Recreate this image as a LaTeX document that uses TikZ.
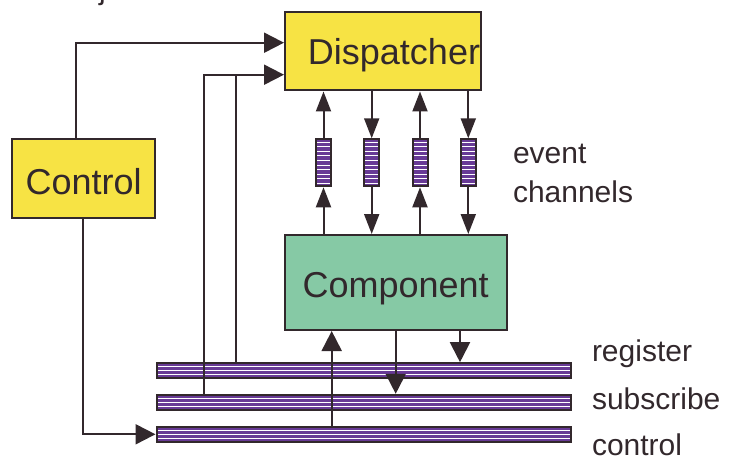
\documentclass[tikz,border=0pt]{standalone}
\usepackage{fontspec}
\setmainfont{Liberation Sans}
\usetikzlibrary{arrows.meta}
\definecolor{ink}{RGB}{50,40,44}
\definecolor{boxyellow}{RGB}{247,227,68}
\definecolor{boxgreen}{RGB}{134,201,165}
\definecolor{chanpurple}{RGB}{104,58,150}
\begin{document}
\begin{tikzpicture}[x=1pt,y=-1pt,line width=2pt,ink,
  box/.style={draw=ink,line width=2pt,rectangle,inner sep=0pt},
  bar/.style={draw=ink,fill=chanpurple,line width=2pt,rectangle,inner sep=0pt,
    minimum width=414pt,minimum height=15pt,
    path picture={\foreach \k in {-1,0,1}
      \draw[white,line width=1pt]
        ([yshift=\k*4.2pt]path picture bounding box.west) --
        ([yshift=\k*4.2pt]path picture bounding box.east);}},
  chan/.style={draw=ink,fill=chanpurple,line width=2pt,rectangle,inner sep=0pt,
    minimum width=15pt,minimum height=47pt,
    path picture={\foreach \k in {-4.5,-3.5,...,4.5}
      \draw[white,line width=1pt]
        ([yshift=\k*4.6pt]path picture bounding box.west) --
        ([yshift=\k*4.6pt]path picture bounding box.east);}},
  arr/.style={-{Triangle[length=20pt,width=20pt]}},
  carr/.style={-{Triangle[length=20pt,width=15pt]}},
  big/.style={text=ink,inner sep=0pt,font=\fontsize{36}{40}\selectfont},
  lbl/.style={text=ink,inner sep=0pt,anchor=base west,font=\fontsize{30}{34}\selectfont}]
\useasboundingbox (0,0) rectangle (729,460);

% fragment of a heading cut off by the top edge
\begin{scope}
  \clip (0,0) rectangle (729,460);
  \node[lbl] (frag) at (98,0) {j};
\end{scope}

% main boxes
\node[box,fill=boxyellow,minimum width=196pt,minimum height=78pt] (disp) at (383,51.5) {};
\node[big,anchor=base] (disptext) at (394,65) {Dispatcher};
\node[box,fill=boxyellow,minimum width=143pt,minimum height=79pt] (ctrl) at (83.7,178.5) {};
\node[big,anchor=base] (ctrltext) at (83.7,194) {Control};
\node[box,fill=boxgreen,minimum width=222pt,minimum height=95pt] (comp) at (395.6,282.5) {};
\node[big,anchor=base] (comptext) at (395.7,297) {Component};

% event channels
\node[chan] (ch1) at (323.5,162.8) {};
\node[chan] (ch2) at (371.7,162.8) {};
\node[chan] (ch3) at (420,162.8) {};
\node[chan] (ch4) at (468.3,162.8) {};

% buses
\node[bar] (regbar) at (363.5,370.7) {};
\node[bar] (subbar) at (363.5,402.3) {};
\node[bar] (ctlbar) at (363.5,434.3) {};

% labels
\node[lbl] (ev) at (512,163) {event};
\node[lbl] (chn) at (512,202.5) {channels};
\node[lbl] (reglbl) at (591,361.5) {register};
\node[lbl] (sublbl) at (591,409.5) {subscribe};
\node[lbl] (ctllbl) at (591,455) {control};

% routing points
\coordinate (c1) at (75.7,42.7);
\coordinate (c2) at (83.3,434.3);
\coordinate (j1) at (204,74.7);
\coordinate (j2) at (236,74.7);
\coordinate (u1) at (331.7,0);
\coordinate (d1) at (395.7,0);
\coordinate (d2) at (460,0);

% channel connectors
\draw[carr] (comp.north -| ch1) -- (ch1.south);
\draw[carr] (ch1.north) -- (disp.south -| ch1);
\draw[carr] (disp.south -| ch2) -- (ch2.north);
\draw[carr] (ch2.south) -- (comp.north -| ch2);
\draw[carr] (comp.north -| ch3) -- (ch3.south);
\draw[carr] (ch3.north) -- (disp.south -| ch3);
\draw[carr] (disp.south -| ch4) -- (ch4.north);
\draw[carr] (ch4.south) -- (comp.north -| ch4);

% control and bus connectors
\draw[arr] (ctrl.north -| c1) |- (disp.west |- c1);
\draw[arr] (subbar.north -| j1) |- (disp.west |- j1);
\draw (regbar.north -| j2) -- (j2);
\draw[arr] (ctrl.south -| c2) |- (ctlbar.west);
\draw[arr] (ctlbar.north -| u1) -- (comp.south -| u1);
\draw[arr] (comp.south -| d1) -- (subbar.north -| d1);
\draw[arr] (comp.south -| d2) -- (regbar.north -| d2);
\end{tikzpicture}
\end{document}
